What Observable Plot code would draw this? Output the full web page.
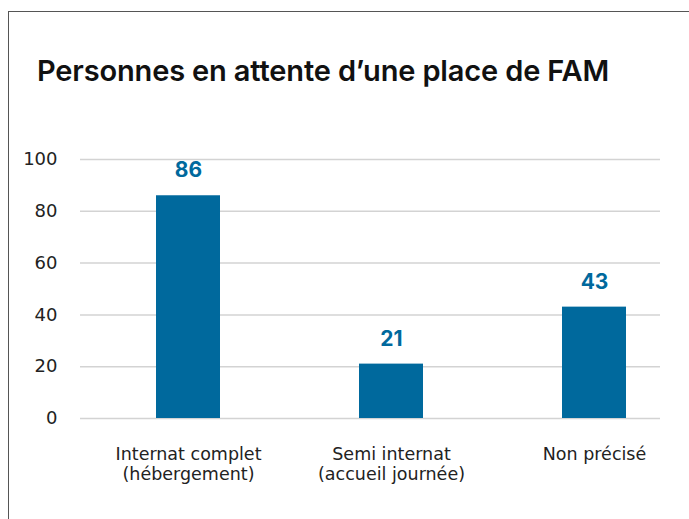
<!DOCTYPE html>
<html>
<head>
<meta charset="utf-8">
<script src="https://cdn.jsdelivr.net/npm/d3@7"></script>
<script src="https://cdn.jsdelivr.net/npm/@observablehq/plot@0.6"></script>
<style>
  html, body { margin: 0; padding: 0; background: #fff; }
  #wrap { position: relative; width: 689px; height: 519px; overflow: hidden; }
  #frame { position: absolute; left: 8px; top: 11px; width: 700px; height: 600px;
           border-left: 1.5px solid #555; border-top: 1.5px solid #555; box-sizing: border-box; }
  #title { position: absolute; left: 37px; top: 56px; font-family: Inter, sans-serif; line-height: 1;
           font-size: 29px; font-weight: 600; color: #111; white-space: nowrap; letter-spacing: -0.15px; }
  #chart { position: absolute; left: 0; top: 0; }
</style>
</head>
<body>
<div id="wrap">
  <div id="frame"></div>
  <div id="title">Personnes en attente d’une place de FAM</div>
  <div id="chart"></div>
</div>
<script>
const categories = ["Internat complet\n(hébergement)", "Semi internat\n(accueil journée)", "Non précisé"];
const values = [86, 21, 43];
const yTicks = [0, 20, 40, 60, 80, 100];

const data = categories.map((c, i) => ({category: c, value: values[i]}));
const blue = "#00699d";

const chart = Plot.plot({
  width: 689,
  height: 519,
  marginLeft: 80,
  marginRight: 29,
  marginTop: 159,
  marginBottom: 101,
  style: {background: "transparent", overflow: "visible"},
  x: {domain: categories, range: [86, 695], paddingInner: 0.685, paddingOuter: 0.3425, label: null},
  y: {domain: [0, 100], label: null},
  marks: [
    Plot.ruleY(yTicks, {stroke: "#d3d3d3", strokeWidth: 1.5}),
    Plot.barY(data, {x: "category", y: "value", fill: blue}),
    Plot.text(data, {x: "category", y: "value", text: d => String(d.value), dy: -25,
      fill: blue, fontSize: 21, fontWeight: 700, fontFamily: "Inter, sans-serif"}),
    Plot.axisY({ticks: yTicks, tickSize: 0, tickPadding: 23, fontSize: 18,
      fontFamily: "DejaVu Sans, sans-serif", color: "#222", label: null}),
    Plot.axisX({tickSize: 0, tickPadding: 28, fontSize: 17.5, lineHeight: 1.12,
      fontFamily: "DejaVu Sans, sans-serif", color: "#222", label: null})
  ]
});
document.getElementById("chart").appendChild(chart);
</script>
</body>
</html>
